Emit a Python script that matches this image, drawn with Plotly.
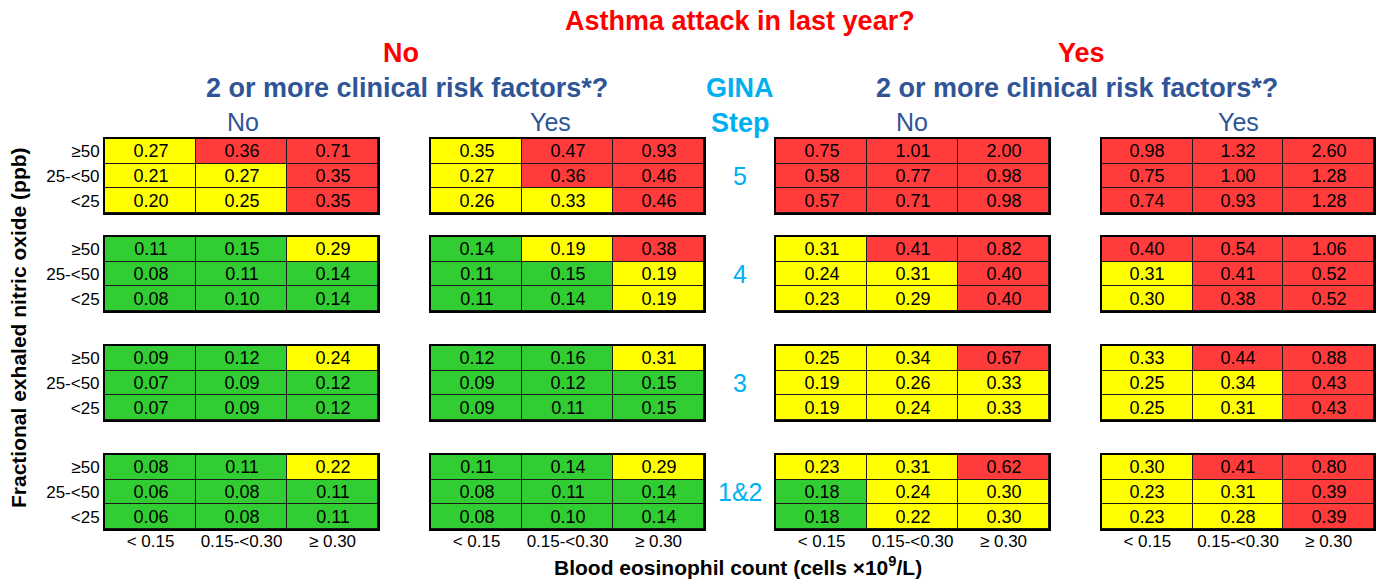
import plotly.graph_objects as go

# ---------------- data ----------------
EOS_LABELS = ["< 0.15", "0.15-<0.30", "≥ 0.30"]
FENO_LABELS = ["≥50", "25-<50", "<25"]
GINA_STEPS = ["5", "4", "3", "1&2"]
ATTACK_HEADERS = ["No", "Yes"]
RISK_HEADERS = ["No", "Yes", "No", "Yes"]

# rates per GINA step (rows: FeNO ≥50, 25-<50, <25; cols: eosinophils)
no_attack_no_risk = [
    [[0.27, 0.36, 0.71], [0.21, 0.27, 0.35], [0.20, 0.25, 0.35]],
    [[0.11, 0.15, 0.29], [0.08, 0.11, 0.14], [0.08, 0.10, 0.14]],
    [[0.09, 0.12, 0.24], [0.07, 0.09, 0.12], [0.07, 0.09, 0.12]],
    [[0.08, 0.11, 0.22], [0.06, 0.08, 0.11], [0.06, 0.08, 0.11]],
]
no_attack_yes_risk = [
    [[0.35, 0.47, 0.93], [0.27, 0.36, 0.46], [0.26, 0.33, 0.46]],
    [[0.14, 0.19, 0.38], [0.11, 0.15, 0.19], [0.11, 0.14, 0.19]],
    [[0.12, 0.16, 0.31], [0.09, 0.12, 0.15], [0.09, 0.11, 0.15]],
    [[0.11, 0.14, 0.29], [0.08, 0.11, 0.14], [0.08, 0.10, 0.14]],
]
yes_attack_no_risk = [
    [[0.75, 1.01, 2.00], [0.58, 0.77, 0.98], [0.57, 0.71, 0.98]],
    [[0.31, 0.41, 0.82], [0.24, 0.31, 0.40], [0.23, 0.29, 0.40]],
    [[0.25, 0.34, 0.67], [0.19, 0.26, 0.33], [0.19, 0.24, 0.33]],
    [[0.23, 0.31, 0.62], [0.18, 0.24, 0.30], [0.18, 0.22, 0.30]],
]
yes_attack_yes_risk = [
    [[0.98, 1.32, 2.60], [0.75, 1.00, 1.28], [0.74, 0.93, 1.28]],
    [[0.40, 0.54, 1.06], [0.31, 0.41, 0.52], [0.30, 0.38, 0.52]],
    [[0.33, 0.44, 0.88], [0.25, 0.34, 0.43], [0.25, 0.31, 0.43]],
    [[0.30, 0.41, 0.80], [0.23, 0.31, 0.39], [0.23, 0.28, 0.39]],
]

# risk level of each cell: 0 = low (green), 1 = medium (yellow), 2 = high (red)
no_attack_no_risk_level = [
    [[1, 2, 2], [1, 1, 2], [1, 1, 2]],
    [[0, 0, 1], [0, 0, 0], [0, 0, 0]],
    [[0, 0, 1], [0, 0, 0], [0, 0, 0]],
    [[0, 0, 1], [0, 0, 0], [0, 0, 0]],
]
no_attack_yes_risk_level = [
    [[1, 2, 2], [1, 2, 2], [1, 1, 2]],
    [[0, 1, 2], [0, 0, 1], [0, 0, 1]],
    [[0, 0, 1], [0, 0, 0], [0, 0, 0]],
    [[0, 0, 1], [0, 0, 0], [0, 0, 0]],
]
yes_attack_no_risk_level = [
    [[2, 2, 2], [2, 2, 2], [2, 2, 2]],
    [[1, 2, 2], [1, 1, 2], [1, 1, 2]],
    [[1, 1, 2], [1, 1, 1], [1, 1, 1]],
    [[1, 1, 2], [0, 1, 1], [0, 1, 1]],
]
yes_attack_yes_risk_level = [
    [[2, 2, 2], [2, 2, 2], [2, 2, 2]],
    [[2, 2, 2], [1, 2, 2], [1, 2, 2]],
    [[1, 2, 2], [1, 1, 2], [1, 1, 2]],
    [[1, 2, 2], [1, 1, 2], [1, 1, 2]],
]

PANEL_VALUES = [no_attack_no_risk, no_attack_yes_risk, yes_attack_no_risk, yes_attack_yes_risk]
PANEL_LEVELS = [no_attack_no_risk_level, no_attack_yes_risk_level,
                yes_attack_no_risk_level, yes_attack_yes_risk_level]

# ---------------- layout / style ----------------
W, H = 1379, 581
TABLE_X = [(105, 378), (431, 704), (776, 1049), (1102, 1374)]
BLOCK_Y = [(139, 213), (237, 311), (346, 420), (455, 529)]

GREEN, YELLOW, RED = "#32CD32", "#FFFF00", "#FF3B3B"
DARK_BLUE, LIGHT_BLUE, TITLE_RED = "#2F5597", "#00B0F0", "#FF0000"
FONT = "Liberation Sans, Arial, Helvetica, sans-serif"

COLORSCALE = [[0, GREEN], [1 / 3, GREEN], [1 / 3, YELLOW], [2 / 3, YELLOW], [2 / 3, RED], [1, RED]]


def fx(x):
    return x / W


def fy(y):
    return 1 - y / H


fig = go.Figure()
layout_axes = {}
k = 0
for t, (x0, x1) in enumerate(TABLE_X):
    for b, (y0, y1) in enumerate(BLOCK_Y):
        k += 1
        sfx = "" if k == 1 else str(k)
        vals = PANEL_VALUES[t][b]
        fig.add_trace(go.Heatmap(
            x=EOS_LABELS, y=FENO_LABELS,
            z=PANEL_LEVELS[t][b],
            text=[[f"{v:.2f}" for v in row] for row in vals],
            texttemplate="%{text}",
            textfont=dict(family=FONT, size=18, color="black"),
            colorscale=COLORSCALE, zmin=0, zmax=2, showscale=False,
            xgap=1, ygap=1, hoverinfo="skip",
            xaxis="x" + sfx, yaxis="y" + sfx,
        ))
        layout_axes["xaxis" + sfx] = dict(
            domain=[fx(x0), fx(x1)], anchor="y" + sfx, type="category",
            range=[-0.5, 2.5], showgrid=False, zeroline=False,
            showline=True, mirror=True, linecolor="black", linewidth=2,
            ticks="", showticklabels=(b == 3), ticklabelstandoff=-4,
            tickfont=dict(family=FONT, size=17, color="black"), fixedrange=True,
        )
        layout_axes["yaxis" + sfx] = dict(
            domain=[fy(y1), fy(y0)], anchor="x" + sfx, type="category",
            range=[2.5, -0.5], showgrid=False, zeroline=False,
            showline=True, mirror=True, linecolor="black", linewidth=2,
            ticks="", showticklabels=(t == 0),
            tickfont=dict(family=FONT, size=17, color="black"), fixedrange=True,
        )

ann = []


def add_text(text, x, y, size, color, bold=False, angle=0):
    ann.append(dict(
        text=f"<b>{text}</b>" if bold else text,
        x=fx(x), y=fy(y), xref="paper", yref="paper",
        xanchor="center", yanchor="middle", showarrow=False, textangle=angle,
        font=dict(family=FONT, size=size, color=color),
    ))


add_text("Asthma attack in last year?", 740, 21, 27, TITLE_RED, bold=True)
add_text(ATTACK_HEADERS[0], 401, 53, 27, TITLE_RED, bold=True)
add_text(ATTACK_HEADERS[1], 1081, 53, 27, TITLE_RED, bold=True)
add_text("2 or more clinical risk factors*?", 407, 88, 27, DARK_BLUE, bold=True)
add_text("2 or more clinical risk factors*?", 1077, 88, 27, DARK_BLUE, bold=True)
add_text("GINA", 740, 88, 27, LIGHT_BLUE, bold=True)
add_text("Step", 740, 123, 27, LIGHT_BLUE, bold=True)
for lab, cx in zip(RISK_HEADERS, [243, 550, 912, 1238]):
    add_text(lab, cx, 122, 25, DARK_BLUE)
for step, (y0, y1) in zip(GINA_STEPS, BLOCK_Y):
    add_text(step, 740, (y0 + y1) / 2, 25, LIGHT_BLUE)
add_text("Blood eosinophil count (cells ×10<sup>9</sup>/L)", 738, 566, 21, "black", bold=True)
add_text("Fractional exhaled nitric oxide (ppb)", 18, 328, 21, "black", bold=True, angle=-90)

fig.update_layout(
    width=W, height=H, margin=dict(l=0, r=0, t=0, b=0),
    paper_bgcolor="white", plot_bgcolor="#1a1a1a",
    annotations=ann, showlegend=False,
    **layout_axes,
)

fig.write_html(
    "out.html",
    config={"displayModeBar": False},
    post_script="document.body.style.margin='0';document.body.style.padding='0';",
)
